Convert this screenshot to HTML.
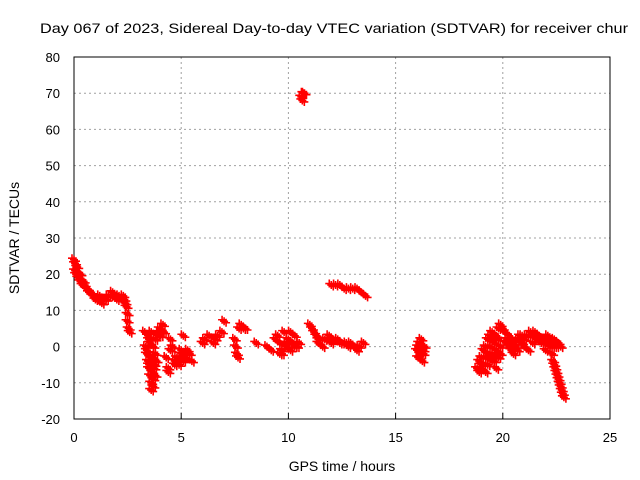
<!DOCTYPE html>
<html><head><meta charset="utf-8"><style>
body{margin:0;background:#fff}
svg{display:block;font-family:"Liberation Sans",sans-serif}
</style></head><body>
<svg id="c" width="640" height="480" viewBox="0 0 640 480">
<text x="40" y="33" font-size="14" textLength="588" lengthAdjust="spacingAndGlyphs">Day 067 of 2023, Sidereal Day-to-day VTEC variation (SDTVAR) for receiver chur</text>
<g id="grid"></g>
<g id="axes"></g>
<g id="pts"></g>
<text x="342" y="471" font-size="14" text-anchor="middle">GPS time / hours</text>
<text transform="translate(19,238) rotate(-90)" font-size="14" text-anchor="middle">SDTVAR / TECUs</text>
</svg>
<script>
const xTicks=[0,5,10,15,20,25];
const yTicks=[-20,-10,0,10,20,30,40,50,60,70,80];
const hours=[0.0,0.05,0.1,0.15,0.2,0.25,0.3,0.35,0.4,0.5,0.6,0.7,0.8,0.9,1.0,1.1,1.2,1.3,1.4,1.5,1.6,1.7,1.8,1.9,2.0,2.1,2.2,2.3,2.35,2.4,2.45,2.5,2.5,2.55,2.6,0.05,0.1,0.2,0.3,0.45,0.6,
3.3,3.35,3.4,3.45,3.5,3.5,3.55,3.6,3.6,3.65,3.7,3.7,3.75,3.8,3.8,3.85,3.9,3.95,4.0,4.05,4.1,4.15,4.2,3.4,3.5,3.6,3.7,3.55,3.65,3.75,3.45,3.6,3.8,
4.3,4.4,4.5,4.6,4.7,4.8,4.9,5.0,5.1,5.2,5.3,5.4,5.5,4.5,4.7,4.9,5.1,5.3,4.4,5.0,
6.0,6.1,6.3,6.5,6.6,6.7,6.9,7.0,7.5,7.55,7.6,7.65,7.7,7.8,7.9,8.0,8.5,
9.0,9.2,9.4,9.5,9.6,9.7,9.8,9.9,10.0,10.1,10.2,10.3,10.4,10.5,9.5,9.7,9.9,10.1,9.6,10.0,10.3,
10.6,10.65,10.7,10.75,
11.0,11.1,11.2,11.3,11.4,11.5,11.7,11.9,12.1,12.3,12.5,12.7,12.9,13.1,13.3,13.5,11.2,11.4,11.6,12.0,12.4,12.8,13.2,
12.0,12.2,12.4,12.6,12.8,13.0,13.2,13.4,13.6,
16.0,16.05,16.1,16.15,16.2,16.25,16.3,16.35,16.1,16.2,16.3,16.05,16.25,
18.8,18.9,19.0,19.1,19.2,19.3,19.4,19.5,19.6,19.7,19.8,19.9,20.0,20.1,20.2,20.3,20.4,20.5,20.6,20.7,20.8,20.9,21.0,
18.9,19.0,19.1,19.2,19.3,19.4,19.5,19.6,19.7,19.8,19.3,19.5,19.7,19.9,20.1,20.3,20.5,20.7,20.9,19.0,19.2,19.4,19.8,20.0,20.2,20.4,20.6,19.6,19.9,20.15,
21.0,21.1,21.2,21.3,21.4,21.5,21.6,21.7,21.8,21.9,22.0,22.1,22.2,22.3,22.4,22.5,22.6,22.7,21.2,21.4,21.6,21.8,22.0,22.2,22.4,
22.3,22.35,22.4,22.45,22.5,22.55,22.6,22.65,22.7,22.75,22.8,22.85];
const sdtvar=[24,23,21,22,20,19,20,18,17,17,16,15,15,14,13,13,14,12,13,13,14,14,15,14,13,14,13,14,13,12,11,9,7,5,4,21,20,19,18,18,16,
4,0,-2,-4,-6,2,-8,-10,4,-3,-11,0,-6,-8,2,-4,3,4,5,3,4,6,4,-1,-5,-3,-9,1,-7,-5,3,-12,-2,
-3,-6,-1,0,-4,-3,-5,-2,-4,-3,-1,-2,-4,2,-5,-4,3,-2,-7,-1,
1,2,3,1,2,3,4,7,2,0,-2,-3,5,6,5,5,1,
0,-1,2,3,1,-2,4,0,2,-1,1,3,0,1,3,-1,1,4,-2,2,0,
69,68,70,70,
6,5,4,3,2,2,2,3,2,2,1,1,1,0,0,1,4,1,0,1,1,0,-1,
17,17,17,16,16,16,16,15,14,
-1,-3,1,-2,0,-4,-1,0,-3,2,-2,0,-1,
-6,-4,-3,-1,0,2,3,4,2,3,5,6,5,4,2,0,-1,-2,0,2,3,1,0,
-7,-6,-5,-3,-2,0,-2,1,-1,-3,-5,-4,-6,-2,4,3,1,-1,3,-5,-7,-3,2,5,1,2,0,-4,0,1,
2,3,3,4,3,4,3,3,2,1,2,3,1,0,0,0,1,0,-1,1,2,1,-1,0,2,
-2,-4,-5,-6,-7,-8,-9,-10,-11,-12,-13,-14];
const X0=74,X1=610,Y0=419,Y1=57;
const xs=v=>X0+(v-0)/(25-0)*(X1-X0);
const ys=v=>Y0-(v+20)/(80+20)*(Y0-Y1);
const NS='http://www.w3.org/2000/svg';
function mk(tag,a,p){const e=document.createElementNS(NS,tag);for(const k in a)e.setAttribute(k,a[k]);p.appendChild(e);return e;}
const grid=document.getElementById('grid'),axes=document.getElementById('axes'),pts=document.getElementById('pts');
xTicks.forEach(t=>{const x=xs(t);
 if(t>0&&t<25){const l=mk('line',{x1:x,y1:Y0,x2:x,y2:Y1,stroke:'#a0a0a0','stroke-dasharray':'2,3'},grid);
 }
 const tk=mk('line',{x1:x,y1:Y0,x2:x,y2:Y0-6,stroke:'#000'},axes);
 
 const tl=mk('text',{x:x,y:Y0+23,'font-size':13,'text-anchor':'middle'},axes);tl.textContent=t;
 });
yTicks.forEach(t=>{const y=ys(t);
 if(t>-20&&t<80){const l=mk('line',{x1:X0,y1:y,x2:X1,y2:y,stroke:'#a0a0a0','stroke-dasharray':'2,3'},grid);
 }
 const tl=mk('text',{x:X0-14,y:y+5,'font-size':13,'text-anchor':'end'},axes);tl.textContent=t;
 });
const fr=mk('rect',{x:X0,y:Y1,width:X1-X0,height:Y0-Y1,fill:'none',stroke:'#000'},axes);

let d='';
hours.forEach((h,i)=>{const x=xs(h),y=ys(sdtvar[i]);
 for(let k=-1;k<=1;k++){const dx=x+k*2,dy=y+k*1.5;d+=`M${dx-4},${dy}h8M${dx},${dy-4}v8`;}});
const p=mk('path',{d:d,stroke:'#f00','stroke-width':1.6,fill:'none'},pts);


</script>
</body></html>
